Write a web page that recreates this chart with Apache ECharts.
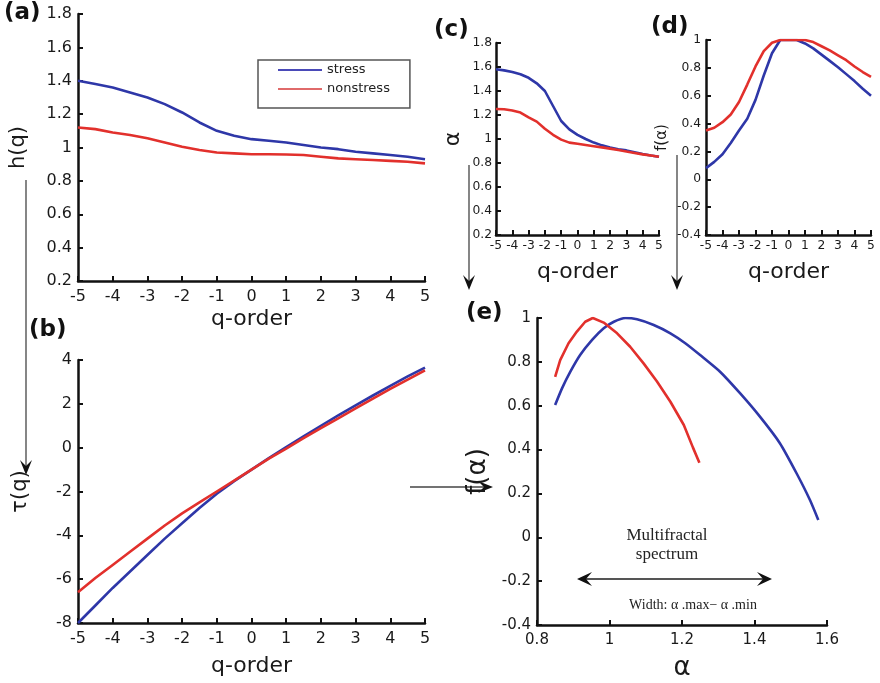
<!DOCTYPE html>
<html>
<head>
<meta charset="utf-8">
<script src="https://cdn.jsdelivr.net/npm/echarts@6/dist/echarts.min.js"></script>
<style>
html,body{margin:0;padding:0;background:#fff;}
#chart{width:880px;height:683px;}
</style>
</head>
<body>
<div id="chart"></div>
<script>
// q-order values (shared x values of panels a-d)
const qOrder = [-5,-4.5,-4,-3.5,-3,-2.5,-2,-1.5,-1,-0.5,0,0.5,1,1.5,2,2.5,3,3.5,4,4.5,5];

// (a) generalized Hurst exponent h(q)
const hStress    = [1.40,1.38,1.36,1.33,1.30,1.26,1.21,1.15,1.10,1.07,1.05,1.04,1.03,1.015,1.00,0.99,0.975,0.965,0.955,0.945,0.93];
const hNonstress = [1.12,1.11,1.09,1.075,1.055,1.03,1.005,0.985,0.97,0.965,0.96,0.96,0.958,0.955,0.945,0.935,0.93,0.925,0.92,0.915,0.905];

// (b) mass exponent tau(q)
const tauStress    = [-8.0,-7.2,-6.4,-5.65,-4.9,-4.15,-3.45,-2.75,-2.1,-1.53,-1.0,-0.48,0.03,0.52,1.0,1.47,1.93,2.38,2.82,3.25,3.65];
const tauNonstress = [-6.6,-5.95,-5.35,-4.75,-4.15,-3.55,-3.0,-2.5,-2.0,-1.5,-1.0,-0.5,-0.04,0.43,0.89,1.34,1.79,2.24,2.68,3.1,3.53];

// (c) singularity exponent alpha(q)
const alphaStress    = [1.581,1.572,1.558,1.54,1.51,1.464,1.40,1.275,1.15,1.08,1.035,1.0,0.97,0.947,0.93,0.915,0.905,0.89,0.875,0.862,0.852];
const alphaNonstress = [1.25,1.248,1.238,1.22,1.18,1.145,1.085,1.035,0.995,0.97,0.96,0.95,0.94,0.93,0.92,0.908,0.896,0.884,0.872,0.862,0.852];

// (d) singularity spectrum f(alpha) vs q
const fStress    = [0.08,0.125,0.18,0.26,0.35,0.435,0.57,0.745,0.905,1.0,1.0,1.0,0.975,0.94,0.895,0.85,0.805,0.755,0.705,0.65,0.60];
const fNonstress = [0.35,0.37,0.41,0.465,0.555,0.68,0.81,0.92,0.98,1.0,1.0,1.0,1.0,0.985,0.955,0.925,0.89,0.855,0.81,0.77,0.735];

// (e) multifractal spectrum f(alpha) vs alpha
const specAlphaStress    = [0.850,0.869,0.892,0.919,0.952,0.984,1.012,1.044,1.076,1.122,1.168,1.209,1.250,1.305,1.360,1.415,1.470,1.516,1.553,1.576];
const specFStress        = [0.603,0.679,0.755,0.831,0.900,0.953,0.983,1.000,0.994,0.968,0.930,0.885,0.831,0.755,0.657,0.550,0.429,0.292,0.170,0.079];
const specAlphaNonstress = [0.850,0.864,0.887,0.910,0.933,0.954,0.984,1.021,1.057,1.094,1.131,1.168,1.205,1.230,1.248];
const specFNonstress     = [0.732,0.808,0.885,0.938,0.983,1.000,0.979,0.930,0.869,0.793,0.710,0.618,0.512,0.410,0.340];

const seriesNames = ['stress','nonstress'];

const BLUE = '#2e37a8', RED = '#e2302c';
const FONT = '"DejaVu Sans", Verdana, sans-serif';
const SERIF = '"Liberation Serif", "Times New Roman", serif';

const pair = (xs, ys) => xs.map((x, i) => [x, ys[i]]);

const grids = [
  {left: 78,  top: 14,  width: 347, height: 267}, // a
  {left: 78,  top: 360, width: 347, height: 263}, // b
  {left: 496, top: 43,  width: 163, height: 192}, // c
  {left: 706, top: 40,  width: 165, height: 195}, // d
  {left: 537, top: 318, width: 290, height: 307}  // e
];

function ax(gi, min, max, interval, fs, name, nameGap, nameSize, margin){
  return {
    type: 'value', gridIndex: gi, min, max, interval,
    name, nameLocation: 'middle', nameGap,
    axisLine: {onZero: false, lineStyle: {color: '#111', width: 2.5}},
    axisTick: {inside: true, length: 5, lineStyle: {color: '#111', width: 2}},
    splitLine: {show: false},
    axisLabel: {color: '#1a1a1a', fontSize: fs, fontFamily: FONT, margin},
    nameTextStyle: {color: '#1a1a1a', fontFamily: FONT, fontSize: nameSize}
  };
}

const xAxes = [
  ax(0, -5, 5, 1, 16, 'q-order', 27, 22, 8),
  ax(1, -5, 5, 1, 16, 'q-order', 32, 22, 8),
  ax(2, -5, 5, 1, 12.3, 'q-order', 26, 22, 5),
  ax(3, -5, 5, 1, 12.3, 'q-order', 26, 22, 5),
  ax(4, 0.8, 1.6, 0.2, 15, 'α', 30, 26, 8)
];
const yAxes = [
  ax(0, 0.2, 1.8, 0.2, 16, 'h(q)', 49, 21, 6),
  ax(1, -8, 4, 2, 16, 'τ(q)', 47, 21, 6),
  ax(2, 0.2, 1.8, 0.2, 12.3, 'α', 32, 22, 4),
  ax(3, -0.4, 1, 0.2, 12.3, 'f(α)', 36, 15, 5),
  ax(4, -0.4, 1, 0.2, 15, 'f(α)', 46, 26, 6)
];

function line(name, gi, data, color, smooth){
  return {name, type: 'line', xAxisIndex: gi, yAxisIndex: gi, data,
    showSymbol: false, symbol: 'none', smooth: smooth || false, animation: false,
    lineStyle: {color, width: 2.6}, itemStyle: {color}};
}

const series = [
  line(seriesNames[0], 0, pair(qOrder, hStress), BLUE),
  line(seriesNames[1], 0, pair(qOrder, hNonstress), RED),
  line(seriesNames[0], 1, pair(qOrder, tauStress), BLUE),
  line(seriesNames[1], 1, pair(qOrder, tauNonstress), RED),
  line(seriesNames[0], 2, pair(qOrder, alphaStress), BLUE),
  line(seriesNames[1], 2, pair(qOrder, alphaNonstress), RED),
  line(seriesNames[0], 3, pair(qOrder, fStress), BLUE),
  line(seriesNames[1], 3, pair(qOrder, fNonstress), RED),
  line(seriesNames[0], 4, pair(specAlphaStress, specFStress), BLUE, 0.2),
  line(seriesNames[1], 4, pair(specAlphaNonstress, specFNonstress), RED)
];

// decorative arrows
function downArrow(x, y1, y2){
  return [
    {type: 'line', shape: {x1: x, y1: y1, x2: x, y2: y2 - 4}, style: {stroke: '#444', lineWidth: 1.3}},
    {type: 'polygon', shape: {points: [[x, y2], [x - 6, y2 - 15], [x, y2 - 9], [x + 6, y2 - 15]]}, style: {fill: '#111'}}
  ];
}
function rightArrow(x1, x2, y){
  return [
    {type: 'line', shape: {x1: x1, y1: y, x2: x2 - 4, y2: y}, style: {stroke: '#444', lineWidth: 1.3}},
    {type: 'polygon', shape: {points: [[x2, y], [x2 - 15, y - 6], [x2 - 9, y], [x2 - 15, y + 6]]}, style: {fill: '#111'}}
  ];
}
function label(txt, x, y){
  return {type: 'text', left: x, top: y, style: {text: txt, font: 'bold 23px ' + FONT, fill: '#111'}};
}

const graphics = [].concat(
  downArrow(26, 180, 475),
  downArrow(469, 165, 290),
  downArrow(677, 155, 290),
  rightArrow(410, 493, 487),
  [
    {type: 'line', shape: {x1: 582, y1: 579, x2: 767, y2: 579}, style: {stroke: '#555', lineWidth: 2}},
    {type: 'polygon', shape: {points: [[577, 579], [592, 572], [586, 579], [592, 586]]}, style: {fill: '#111'}},
    {type: 'polygon', shape: {points: [[772, 579], [757, 572], [763, 579], [757, 586]]}, style: {fill: '#111'}},
    {type: 'text', x: 667, y: 536, style: {text: 'Multifractal', font: '17px ' + SERIF, fill: '#222', textAlign: 'center', textVerticalAlign: 'middle'}},
    {type: 'text', x: 667, y: 555, style: {text: 'spectrum', font: '17px ' + SERIF, fill: '#222', textAlign: 'center', textVerticalAlign: 'middle'}},
    {type: 'text', x: 693, y: 605, style: {text: 'Width: α .max− α .min', font: '14px ' + SERIF, fill: '#222', textAlign: 'center', textVerticalAlign: 'middle'}},
    label('(a)', 4, 2),
    label('(b)', 29, 319),
    label('(c)', 434, 19),
    label('(d)', 651, 16),
    label('(e)', 466, 302)
  ]
);

const chart = echarts.init(document.getElementById('chart'), null, {renderer: 'canvas'});
chart.setOption({
  backgroundColor: '#fff',
  animation: false,
  grid: grids,
  xAxis: xAxes,
  yAxis: yAxes,
  legend: {
    left: 258, top: 60, orient: 'vertical',
    data: [
      {name: seriesNames[0], itemStyle: {color: '#4a4ab8'}},
      {name: seriesNames[1], itemStyle: {color: '#e06a6a'}}
    ],
    icon: 'rect', itemWidth: 44, itemHeight: 2, itemGap: 3,
    padding: [2, 20, 11, 20],
    borderColor: '#555', borderWidth: 1.5, borderRadius: 0,
    textStyle: {fontSize: 13, fontFamily: FONT, color: '#222', lineHeight: 16},
    selectedMode: false
  },
  series: series,
  graphic: graphics
});
</script>
</body>
</html>
